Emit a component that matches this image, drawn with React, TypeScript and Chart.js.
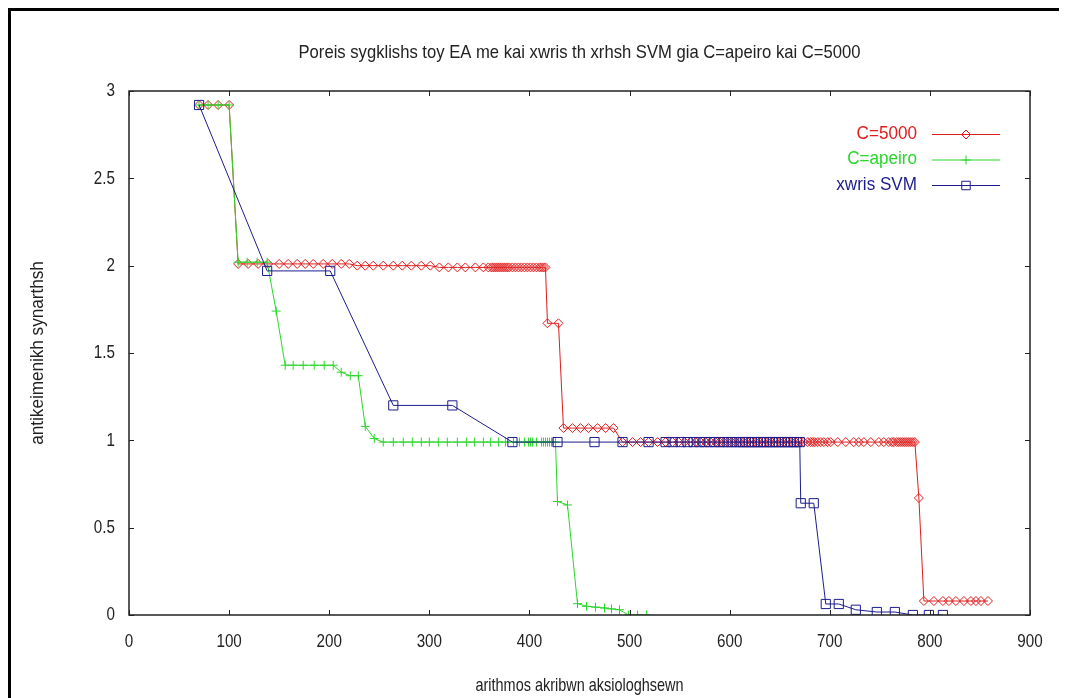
import React, { useEffect, useRef } from "react";
import { Chart, registerables } from "chart.js";

Chart.register(...registerables);

const TITLE = "Poreis sygklishs toy EA me kai xwris th xrhsh SVM gia C=apeiro kai C=5000";
const X_TITLE = "arithmos akribwn aksiologhsewn";
const Y_TITLE = "antikeimenikh synarthsh";

const xTickValues = [0, 100, 200, 300, 400, 500, 600, 700, 800, 900];
const xTickLabels = ["0", "100", "200", "300", "400", "500", "600", "700", "800", "900"];
const yTickValues = [0, 0.5, 1, 1.5, 2, 2.5, 3];
const yTickLabels = ["0", "0.5", "1", "1.5", "2", "2.5", "3"];

const seriesNames = ["C=5000", "C=apeiro", "xwris SVM"];

// C=5000
const c5000X = [
  70, 79, 89, 100,
  109, 119, 129, 139, 150, 159, 168, 176, 184, 194, 203, 212, 220,
  228, 236, 244, 254, 264, 273, 282, 292, 301,
  310, 319, 328, 336, 346, 354,
  359, 362, 364, 366, 368, 370, 372, 374, 376, 378, 380, 383,
  386, 389, 392, 395, 398, 401, 404, 407, 410, 412, 414, 416,
  418, 429,
  434, 443, 451, 459, 468, 476, 484,
  493, 503, 511, 519, 528, 536, 543, 549, 555, 561, 566, 571,
  576, 581, 586, 590, 594, 598, 602, 606, 610, 614, 618, 622,
  626, 630, 634, 638, 642, 646, 650, 654, 658, 662, 666, 670,
  674, 678, 681, 683, 685, 688, 691, 694, 698, 701, 708, 716,
  724, 729, 734, 741, 749, 754, 759, 762, 764, 767, 769, 771,
  773, 775, 777, 779, 781, 783, 785,
  789,
  794, 804, 813, 819, 826, 834, 841, 846, 851, 858,
];
const c5000Y = [
  2.92, 2.92, 2.92, 2.92,
  2.01, 2.01, 2.01, 2.01, 2.01, 2.01, 2.01, 2.01, 2.01, 2.01, 2.01, 2.01, 2.01,
  2.0, 2.0, 2.0, 2.0, 2.0, 2.0, 2.0, 2.0, 2.0,
  1.99, 1.99, 1.99, 1.99, 1.99, 1.99,
  1.99, 1.99, 1.99, 1.99, 1.99, 1.99, 1.99, 1.99, 1.99, 1.99, 1.99, 1.99,
  1.99, 1.99, 1.99, 1.99, 1.99, 1.99, 1.99, 1.99, 1.99, 1.99, 1.99, 1.99,
  1.67, 1.67,
  1.07, 1.07, 1.07, 1.07, 1.07, 1.07, 1.07,
  0.99, 0.99, 0.99, 0.99, 0.99, 0.99, 0.99, 0.99, 0.99, 0.99, 0.99, 0.99,
  0.99, 0.99, 0.99, 0.99, 0.99, 0.99, 0.99, 0.99, 0.99, 0.99, 0.99, 0.99,
  0.99, 0.99, 0.99, 0.99, 0.99, 0.99, 0.99, 0.99, 0.99, 0.99, 0.99, 0.99,
  0.99, 0.99, 0.99, 0.99, 0.99, 0.99, 0.99, 0.99, 0.99, 0.99, 0.99, 0.99,
  0.99, 0.99, 0.99, 0.99, 0.99, 0.99, 0.99, 0.99, 0.99, 0.99, 0.99, 0.99,
  0.99, 0.99, 0.99, 0.99, 0.99, 0.99, 0.99,
  0.67,
  0.08, 0.08, 0.08, 0.08, 0.08, 0.08, 0.08, 0.08, 0.08, 0.08,
];

// C=apeiro
const apeiroX = [
  70, 79, 89, 100,
  109, 118, 128, 138,
  147,
  156, 164, 174, 185, 195, 204,
  212, 221, 229,
  236, 245,
  254, 264, 274, 283, 292, 300, 309, 318, 328, 337, 345, 354,
  361, 369, 376, 384, 390, 395, 399, 401, 403, 407, 412, 414,
  416, 418, 420, 422, 424, 426,
  428, 438,
  448, 457, 466, 475, 482, 490,
  499, 508, 517,
];
const apeiroY = [
  2.92, 2.92, 2.92, 2.92,
  2.02, 2.02, 2.02, 2.02,
  1.74,
  1.43, 1.43, 1.43, 1.43, 1.43, 1.43,
  1.39, 1.37, 1.37,
  1.08, 1.01,
  0.99, 0.99, 0.99, 0.99, 0.99, 0.99, 0.99, 0.99, 0.99, 0.99, 0.99, 0.99,
  0.99, 0.99, 0.99, 0.99, 0.99, 0.99, 0.99, 0.99, 0.99, 0.99, 0.99, 0.99,
  0.99, 0.99, 0.99, 0.99, 0.99, 0.99,
  0.65, 0.63,
  0.065, 0.05, 0.045, 0.04, 0.035, 0.03,
  0.0, 0.0, 0.0,
];

// xwris SVM
const svmX = [
  70, 138, 201, 264, 323,
  383, 428, 465, 493, 519, 536, 543, 551, 558, 564,
  570, 575, 580, 585, 590, 594, 598, 602, 606, 610,
  613, 616, 619, 622, 625, 628, 631, 634, 637, 640,
  643, 646, 649, 652, 655, 658, 661, 664, 667, 670,
  671, 684, 696, 709, 726, 747, 765, 783, 799, 813,
];
const svmY = [
  2.92, 1.97, 1.97, 1.2, 1.2,
  0.99, 0.99, 0.99, 0.99, 0.99, 0.99, 0.99, 0.99, 0.99, 0.99,
  0.99, 0.99, 0.99, 0.99, 0.99, 0.99, 0.99, 0.99, 0.99, 0.99,
  0.99, 0.99, 0.99, 0.99, 0.99, 0.99, 0.99, 0.99, 0.99, 0.99,
  0.99, 0.99, 0.99, 0.99, 0.99, 0.99, 0.99, 0.99, 0.99, 0.99,
  0.64, 0.64, 0.063, 0.063, 0.03, 0.017, 0.017, 0.0, 0.0, 0.0,
];

const RED = "#e01c1c";
const GREEN = "#2bd62b";
const BLUE = "#1c1c8e";

const FONT_FAMILY = "'Liberation Sans', Arial, sans-serif";

const toPoints = (xs: number[], ys: number[]) => xs.map((x, i) => ({ x, y: ys[i] }));

function drawMarker(ctx: CanvasRenderingContext2D, style: string, x: number, y: number, r: number, color: string) {
  ctx.beginPath();
  ctx.strokeStyle = color;
  ctx.lineWidth = 1;
  if (style === "rectRot") {
    ctx.moveTo(x - r, y);
    ctx.lineTo(x, y - r);
    ctx.lineTo(x + r, y);
    ctx.lineTo(x, y + r);
    ctx.closePath();
  } else if (style === "cross") {
    ctx.moveTo(x - r, y);
    ctx.lineTo(x + r, y);
    ctx.moveTo(x, y - r);
    ctx.lineTo(x, y + r);
  } else {
    const s = r * Math.SQRT1_2;
    ctx.rect(x - s, y - s, 2 * s, 2 * s);
  }
  ctx.stroke();
}

// draw text horizontally condensed by factor sx
function condensedText(ctx: CanvasRenderingContext2D, text: string, x: number, y: number, sx: number) {
  ctx.save();
  ctx.translate(x, y);
  ctx.scale(sx, 1);
  ctx.fillText(text, 0, 0);
  ctx.restore();
}

const legendItems = [
  { name: seriesNames[0], color: RED, style: "rectRot", r: 4.5 },
  { name: seriesNames[1], color: GREEN, style: "cross", r: 4.5 },
  { name: seriesNames[2], color: BLUE, style: "rect", r: 6 },
];

const decorPlugin = {
  id: "decor",
  afterDraw(chart: any) {
    const { ctx, chartArea: a, scales } = chart;
    ctx.save();
    // plot border
    ctx.strokeStyle = "#222";
    ctx.lineWidth = 1.5;
    ctx.strokeRect(a.left, a.top, a.right - a.left, a.bottom - a.top);
    // ticks (mirrored, inward)
    const tl = 5;
    ctx.lineWidth = 1;
    ctx.beginPath();
    xTickValues.forEach((v) => {
      const px = Math.round(scales.x.getPixelForValue(v)) + 0.5;
      ctx.moveTo(px, a.bottom);
      ctx.lineTo(px, a.bottom - tl);
      ctx.moveTo(px, a.top);
      ctx.lineTo(px, a.top + tl);
    });
    yTickValues.forEach((v) => {
      const py = Math.round(scales.y.getPixelForValue(v)) + 0.5;
      ctx.moveTo(a.left, py);
      ctx.lineTo(a.left + tl, py);
      ctx.moveTo(a.right, py);
      ctx.lineTo(a.right - tl, py);
    });
    ctx.stroke();

    // tick labels
    ctx.fillStyle = "#222";
    ctx.textBaseline = "middle";
    ctx.font = `19px ${FONT_FAMILY}`;
    ctx.textAlign = "center";
    xTickValues.forEach((v, i) => {
      condensedText(ctx, xTickLabels[i], scales.x.getPixelForValue(v), a.bottom + 27, 0.8);
    });
    ctx.textAlign = "right";
    yTickValues.forEach((v, i) => {
      condensedText(ctx, yTickLabels[i], a.left - 14, scales.y.getPixelForValue(v), 0.8);
    });

    // titles
    const cx = (a.left + a.right) / 2;
    ctx.textAlign = "center";
    ctx.font = `19px ${FONT_FAMILY}`;
    const tw = ctx.measureText(TITLE).width;
    condensedText(ctx, TITLE, cx, 42, 562 / tw);
    const xw = ctx.measureText(X_TITLE).width;
    condensedText(ctx, X_TITLE, cx, 675, 208 / xw);
    ctx.save();
    ctx.translate(27, (a.top + a.bottom) / 2);
    ctx.rotate(-Math.PI / 2);
    ctx.scale(0.9, 1);
    ctx.fillText(Y_TITLE, 0, 0);
    ctx.restore();

    // legend
    ctx.textAlign = "right";
    ctx.font = `18px ${FONT_FAMILY}`;
    legendItems.forEach((it, i) => {
      const y = 123 + i * 25.5;
      ctx.fillStyle = it.color;
      condensedText(ctx, it.name, 906, y, 0.95);
      ctx.beginPath();
      ctx.strokeStyle = it.color;
      ctx.lineWidth = 1;
      ctx.moveTo(921, y + 0.5);
      ctx.lineTo(989, y + 0.5);
      ctx.stroke();
      drawMarker(ctx, it.style, 955, y + 0.5, it.r, it.color);
    });
    ctx.restore();
  },
};

export default function App() {
  const canvasRef = useRef<HTMLCanvasElement | null>(null);

  useEffect(() => {
    const canvas = canvasRef.current;
    if (!canvas) return;
    const chart = new Chart(canvas, {
      type: "line",
      data: {
        datasets: [
          {
            label: seriesNames[2],
            data: toPoints(svmX, svmY),
            borderColor: BLUE,
            backgroundColor: "rgba(0,0,0,0)",
            pointStyle: "rect",
            pointRadius: 6.5,
            pointBorderWidth: 1,
            pointBorderColor: BLUE,
            pointBackgroundColor: "rgba(0,0,0,0)",
            borderWidth: 1,
            tension: 0,
          },
          {
            label: seriesNames[1],
            data: toPoints(apeiroX, apeiroY),
            borderColor: GREEN,
            backgroundColor: "rgba(0,0,0,0)",
            pointStyle: "cross",
            pointRadius: 4.5,
            pointBorderWidth: 1,
            pointBorderColor: GREEN,
            pointBackgroundColor: "rgba(0,0,0,0)",
            borderWidth: 1,
            tension: 0,
          },
          {
            label: seriesNames[0],
            data: toPoints(c5000X, c5000Y),
            borderColor: RED,
            backgroundColor: "rgba(0,0,0,0)",
            pointStyle: "rectRot",
            pointRadius: 4.5,
            pointBorderWidth: 1,
            pointBorderColor: RED,
            pointBackgroundColor: "rgba(0,0,0,0)",
            borderWidth: 1,
            tension: 0,
          },
        ],
      },
      options: {
        animation: false,
        responsive: false,
        maintainAspectRatio: false,
        layout: { padding: { top: 80, right: 37, left: 0, bottom: 0 } },
        plugins: {
          legend: { display: false },
          title: { display: false },
          tooltip: { enabled: false },
        },
        scales: {
          x: {
            type: "linear",
            min: 0,
            max: 900,
            afterBuildTicks: (s: any) => {
              s.ticks = xTickValues.map((v) => ({ value: v }));
            },
            ticks: { display: false },
            grid: { display: false, drawTicks: false },
            border: { display: false },
            afterFit: (s: any) => {
              s.height = 83;
            },
          },
          y: {
            type: "linear",
            min: 0,
            max: 3,
            afterBuildTicks: (s: any) => {
              s.ticks = yTickValues.map((v) => ({ value: v }));
            },
            ticks: { display: false },
            grid: { display: false, drawTicks: false },
            border: { display: false },
            afterFit: (s: any) => {
              s.width = 118;
            },
          },
        },
      },
      plugins: [decorPlugin],
    });
    return () => chart.destroy();
  }, []);

  return (
    <div
      style={{
        width: 1059,
        height: 690,
        borderLeft: "3px solid #000",
        borderTop: "3px solid #000",
        boxSizing: "border-box",
        overflow: "hidden",
        background: "#fff",
      }}
    >
      <canvas ref={canvasRef} width={1056} height={687} style={{ display: "block", width: 1056, height: 687 }} />
    </div>
  );
}
